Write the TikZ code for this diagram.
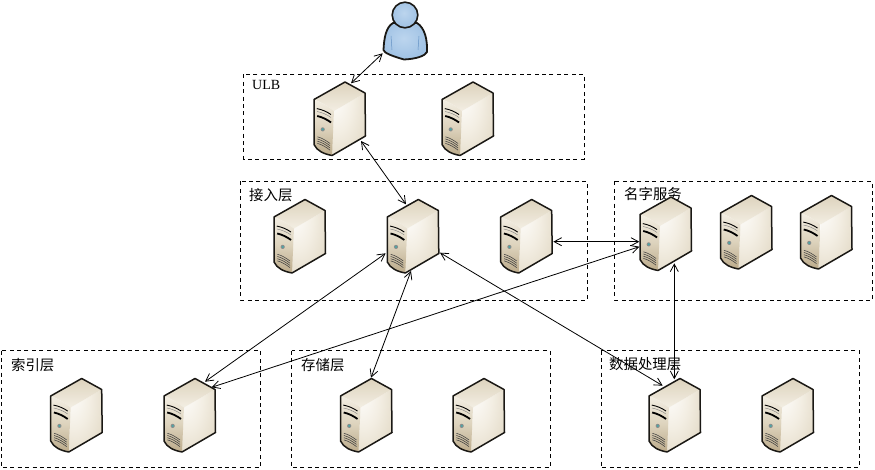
\documentclass[tikz,border=0pt]{standalone}
\usepackage{fontspec}
\setmainfont{Liberation Serif}
\newfontfamily\cjk{Noto Sans CJK SC}
\usetikzlibrary{arrows.meta}
\definecolor{srvdark}{HTML}{1A1814}
\definecolor{srvtan}{HTML}{BBAA8A}
\definecolor{srvcream}{HTML}{F3EEE3}
\definecolor{srvmid}{HTML}{DDD3BD}
\definecolor{userlight}{HTML}{BCD5EE}
\definecolor{userblue}{HTML}{9DC0E3}
\definecolor{userdeep}{HTML}{6492C4}
\pgfdeclareradialshading{srvglow}{\pgfpoint{-25bp}{25bp}}{color(0bp)=(white); color(25bp)=(srvcream); color(55bp)=(srvmid); color(95bp)=(srvtan); color(100bp)=(srvtan)}
\pgfdeclareradialshading{userglow}{\pgfpoint{-2bp}{4bp}}{color(0bp)=(userlight); color(30bp)=(userblue); color(50bp)=(userdeep); color(100bp)=(userdeep)}
\tikzset{
  zonebox/.style={draw=black,line width=0.8pt,dash pattern=on 4pt off 3.4pt},
  zonelabel/.style={anchor=west,inner sep=0pt,font=\fontsize{14.4pt}{15pt}\selectfont\cjk},
  latinlabel/.style={anchor=west,inner sep=0pt,font=\fontsize{14pt}{15pt}\selectfont},
  srvnode/.style={inner sep=0pt,minimum width=51pt,minimum height=73pt},
  usernode/.style={inner sep=0pt,minimum width=44pt,minimum height=58pt},
  link/.style={line width=0.8pt,draw=black,{Straight Barb[length=7.5pt,width=8pt,line width=0.8pt]}-{Straight Barb[length=7.5pt,width=8pt,line width=0.8pt]}},
  srvline/.style={draw=srvdark,line width=1.5pt,line join=round}
}
\newcommand{\srvicon}[3]{%
  \node[srvnode] (#1) at (#2+25.5,#3+36.5) {};
  \begin{scope}[shift={(#2,#3)}]
    % side
    \shade[shading=srvglow] (20,29) -- (51,11) -- (51.5,54) -- (18,73.5) -- cycle;
    % top
    \shade[top color=srvmid,bottom color=srvcream] (0,17.5) -- (31,0) -- (51,11) -- (20,29) .. controls (14,24) and (7,20) .. (0,17.5) -- cycle;
    % front
    \shade[top color=srvcream,bottom color=srvtan,middle color=srvmid] (0,17.5) .. controls (7,20) and (14,24) .. (20,29) -- (18,73.5) .. controls (10,72) and (3,69) .. (0,62.5) -- cycle;
    % slots
    \draw[line width=0.9pt,draw=black] (2.8,26.6) .. controls (8,27.6) and (13,29.6) .. (17,32.6);
    \draw[line width=0.4pt,draw=black!50] (3,29.5) .. controls (8,30.5) and (13,32.5) .. (17,35.5);
    \draw[line width=1.8pt,draw=black] (3.2,34) .. controls (8,35) and (13,37.5) .. (17,40.5);
    % lamp
    \fill[black!45] (8.7,47.4) circle (2.1);
    \fill[teal!70!white] (8.7,47.4) circle (1.2);
    % vents
    \foreach \v in {0,2.2,4.4,6.6}
      \draw[line width=0.55pt,draw=black!75] (3.4,54.8+\v) .. controls (8,56+\v) and (12,58.5+\v) .. (16,61.5+\v);
    % outline
    \draw[srvline] (0,17.5) -- (31,0) -- (51,11) -- (51.5,54) -- (18,73.5) .. controls (10,72) and (3,69) .. (0,62.5) -- cycle;
  \end{scope}
}
\begin{document}
\begin{tikzpicture}[x=1pt,y=-1pt]
\useasboundingbox (0,0) rectangle (875,470);
\fill[white] (0,0) rectangle (875,470);
% zones
\draw[zonebox] (243.5,74.5) rectangle (584,159);
\draw[zonebox] (240.5,181.5) rectangle (587,300);
\draw[zonebox] (614.5,181.5) rectangle (872,300);
\draw[zonebox] (1.5,350.5) rectangle (260.5,467.5);
\draw[zonebox] (291.5,350.5) rectangle (550,467.5);
\draw[zonebox] (601,350.5) rectangle (859,467.5);
% labels
\node[latinlabel] (lulb) at (252,85) {ULB};
\node[zonelabel] (lacc) at (249,195) {接入层};
\node[zonelabel] (lname) at (624,194) {名字服务};
\node[zonelabel] (lidx) at (11,365) {索引层};
\node[zonelabel] (lsto) at (301,365) {存储层};
\node[zonelabel] (ldat) at (609,364) {数据处理层};
% user
\node[usernode] (user) at (405,32) {};
\shadedraw[line width=1.8pt,draw=srvdark,shading=userglow,line join=round]
  (393,23) .. controls (386,27) and (384,38) .. (383.5,50)
  .. controls (384,53) and (392,56) .. (404,59.5)
  .. controls (416,59) and (425,56) .. (427,52)
  .. controls (427.5,40) and (425,28) .. (417,23) -- cycle;
\shadedraw[line width=1.6pt,draw=srvdark,shading=userglow] (405,15) circle (12.8);
\draw[line width=0.5pt,draw=userdeep] (391,36) -- (392,50);
\draw[line width=0.5pt,draw=userdeep] (419,36) -- (418,50);
% servers
\srvicon{ua}{314}{82}
\srvicon{ub}{442}{82}
\srvicon{aa}{274}{199.5}
\srvicon{ab}{387.3}{199.5}
\srvicon{ac}{500.7}{199.5}
\srvicon{na}{640}{197}
\srvicon{nb}{720.5}{195.5}
\srvicon{nc}{800.5}{195.5}
\srvicon{ia}{50.7}{378.5}
\srvicon{ib}{164}{378.5}
\srvicon{sa}{340.5}{378.5}
\srvicon{sb}{453}{378.5}
\srvicon{da}{649}{378.5}
\srvicon{db}{762}{378.5}
% connectors
\draw[link] ([shift={(-22.3,21.3)}]user.center) -- ([shift={(11.5,-35.2)}]ua.center);
\draw[link] ([shift={(21.5,22.5)}]ua.center) -- ([shift={(-6.8,-31.7)}]ab.center);
\draw[link] ([shift={(-27.1,17.3)}]ab.center) -- ([shift={(15.5,-33.3)}]ib.center);
\draw[link] ([shift={(-1.8,35)}]ab.center) -- ([shift={(5,-37.3)}]sa.center);
\draw[link] ([shift={(27.2,16.7)}]ab.center) -- ([shift={(-11.8,-29.3)}]da.center);
\draw[link] ([shift={(27.1,5.7)}]ac.center) -- ([shift={(-26.2,8.2)}]na.center);
\draw[link] ([shift={(-26.2,13.2)}]na.center) -- ([shift={(22.2,-27.7)}]ib.center);
\draw[link] ([shift={(8.8,29.8)}]na.center) -- ([shift={(-0.2,-35.7)}]da.center);
\end{tikzpicture}
\end{document}
